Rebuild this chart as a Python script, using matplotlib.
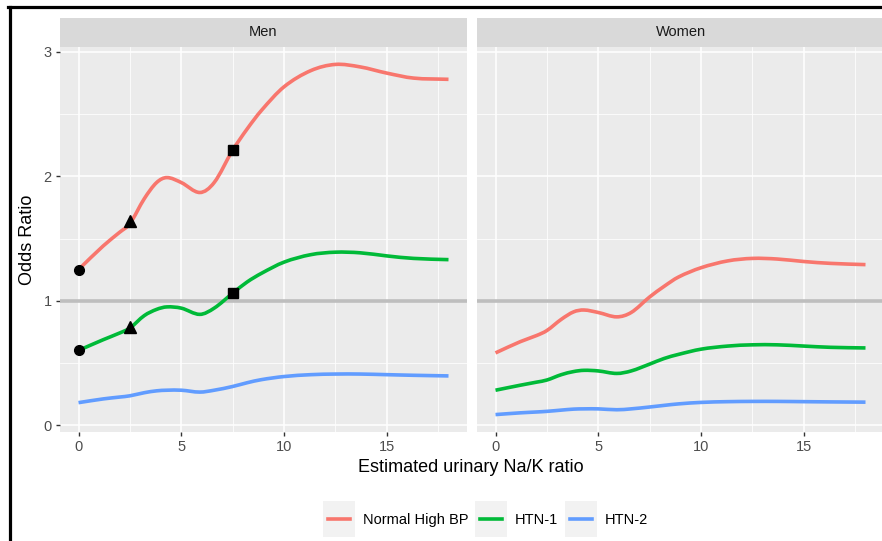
import matplotlib
matplotlib.use("Agg")
import matplotlib.pyplot as plt
from matplotlib.path import Path
from matplotlib.patches import PathPatch, Rectangle
from matplotlib.lines import Line2D
from matplotlib.legend_handler import HandlerLine2D

plt.rcParams['font.family'] = ['Liberation Sans', 'DejaVu Sans']

# values
ratio = [0, 1.2, 2, 2.5, 3.2, 3.8, 4.3, 5, 5.9, 6.6, 7.5, 8.2, 8.9, 10, 11.3, 12.5, 13.7, 15, 16.3, 18]

men_normal = [1.25, 1.44, 1.55, 1.62, 1.82, 1.95, 1.99, 1.95, 1.87, 1.95, 2.21, 2.38, 2.53, 2.72, 2.85, 2.90, 2.88, 2.83, 2.79, 2.78]
men_htn1 = [0.60, 0.686, 0.74, 0.78, 0.88, 0.93, 0.95, 0.94, 0.89, 0.94, 1.06, 1.15, 1.22, 1.31, 1.37, 1.39, 1.385, 1.36, 1.34, 1.33]
men_htn2 = [0.18, 0.21, 0.225, 0.235, 0.26, 0.275, 0.28, 0.28, 0.265, 0.28, 0.31, 0.34, 0.365, 0.39, 0.405, 0.41, 0.41, 0.405, 0.40, 0.395]

women_normal = [0.58, 0.67, 0.72, 0.76, 0.85, 0.91, 0.925, 0.905, 0.87, 0.905, 1.03, 1.115, 1.19, 1.265, 1.32, 1.34, 1.335, 1.315, 1.30, 1.29]
women_htn1 = [0.28, 0.32, 0.345, 0.362, 0.405, 0.43, 0.44, 0.435, 0.415, 0.435, 0.49, 0.535, 0.568, 0.61, 0.635, 0.645, 0.645, 0.635, 0.625, 0.62]
women_htn2 = [0.084, 0.098, 0.105, 0.11, 0.12, 0.128, 0.13, 0.13, 0.123, 0.13, 0.145, 0.158, 0.17, 0.182, 0.188, 0.19, 0.19, 0.188, 0.186, 0.184]

# marked points (men only): circle, triangle, square
mark_x = [0, 2.5, 7.5]
mark_normal = [1.25, 1.64, 2.21]
mark_htn1 = [0.60, 0.79, 1.06]
mark_shapes = ['o', '^', 's']

groups = ['Normal High BP', 'HTN-1', 'HTN-2']
colors = ['#F8766D', '#00BA38', '#619CFF']
panels = ['Men', 'Women']


def smooth_path(xs, ys):
    # cubic hermite through the read points, drawn as bezier segments
    n = len(xs)
    slopes = []
    for i in range(n):
        a = max(i - 1, 0)
        b = min(i + 1, n - 1)
        slopes.append((ys[b] - ys[a]) / (xs[b] - xs[a]))
    verts = [(xs[0], ys[0])]
    codes = [Path.MOVETO]
    for i in range(n - 1):
        h = xs[i + 1] - xs[i]
        verts += [(xs[i] + h / 3, ys[i] + slopes[i] * h / 3),
                  (xs[i + 1] - h / 3, ys[i + 1] - slopes[i + 1] * h / 3),
                  (xs[i + 1], ys[i + 1])]
        codes += [Path.CURVE4] * 3
    return Path(verts, codes)


class KeyHandler(HandlerLine2D):
    def create_artists(self, legend, orig, xd, yd, w, h, fs, trans):
        arts = super().create_artists(legend, orig, xd, yd, w, h, fs, trans)
        bg = Rectangle((-xd - 3.5, -yd - 9), w + 7, h + 18, facecolor='#F2F2F2',
                       edgecolor='none', transform=trans)
        return [bg] + list(arts)


W, H = 882, 541
fig = plt.figure(figsize=(W / 100, H / 100), dpi=100)

series = [[men_normal, men_htn1, men_htn2], [women_normal, women_htn1, women_htn2]]
lefts = [60, 477]
for p, name in enumerate(panels):
    ax = fig.add_axes([lefts[p] / W, (H - 432) / H, 407 / W, 385 / H])
    ax.set_facecolor('#EBEBEB')
    for s in ax.spines.values():
        s.set_visible(False)
    ax.set_xlim(-0.9, 18.9)
    ax.set_ylim(-0.056, 3.04)
    ax.set_xticks([0, 5, 10, 15])
    ax.set_xticks([2.5, 7.5, 12.5, 17.5], minor=True)
    ax.set_yticks([0, 1, 2, 3])
    ax.set_yticks([0.5, 1.5, 2.5], minor=True)
    ax.grid(True, which='major', color='white', lw=1.1)
    ax.grid(True, which='minor', color='white', lw=0.55)
    ax.set_axisbelow(True)
    ax.tick_params(which='minor', length=0)
    ax.tick_params(which='major', length=3, width=1, color='#333333',
                   labelcolor='#4D4D4D', labelsize=10.5, pad=3)
    if p == 1:
        ax.tick_params(axis='y', left=False, labelleft=False)
    ax.axhline(1, color='#BEBEBE', lw=2.6, zorder=2)
    for ys, c in zip(series[p], colors):
        ax.add_patch(PathPatch(smooth_path(ratio, ys), facecolor='none',
                               edgecolor=c, lw=2.6, zorder=3, capstyle='butt'))
    if p == 0:
        for mx, my1, my2, m in zip(mark_x, mark_normal, mark_htn1, mark_shapes):
            ms = 7 if m == 'o' else (8 if m == '^' else 6.5)
            ax.plot([mx, mx], [my1, my2], ls='none', marker=m, ms=ms, color='black', zorder=4)
        ax.set_ylabel('Odds Ratio', fontsize=13, color='black', labelpad=5)
    # facet strip
    sx = fig.add_axes([lefts[p] / W, (H - 47) / H, 407 / W, 29 / H])
    sx.set_facecolor('#D9D9D9')
    sx.set_xticks([])
    sx.set_yticks([])
    for s in sx.spines.values():
        s.set_visible(False)
    sx.text(0.5, 0.5, name, ha='center', va='center', fontsize=10.5, color='#1A1A1A',
            transform=sx.transAxes)

fig.text(471 / W, 1 - 468 / H, 'Estimated urinary Na/K ratio', ha='center', va='center',
         fontsize=13)

handles = [Line2D([], [], color=c, lw=2.6) for c in colors]
fig.legend(handles, groups, loc='center', bbox_to_anchor=(488 / W, 1 - 520 / H), ncol=3,
           frameon=False, fontsize=10.5, handlelength=1.5, handletextpad=0.9,
           columnspacing=0.8, handler_map={Line2D: KeyHandler()})

# outer black border (top and left edges)
fig.add_artist(Line2D([8 / W, 1], [1 - 7 / H, 1 - 7 / H], color='black', lw=2.3,
                      transform=fig.transFigure))
fig.add_artist(Line2D([9.5 / W, 9.5 / W], [0, 1 - 7 / H], color='black', lw=2.3,
                      transform=fig.transFigure))

fig.savefig('out.png', dpi=100)
